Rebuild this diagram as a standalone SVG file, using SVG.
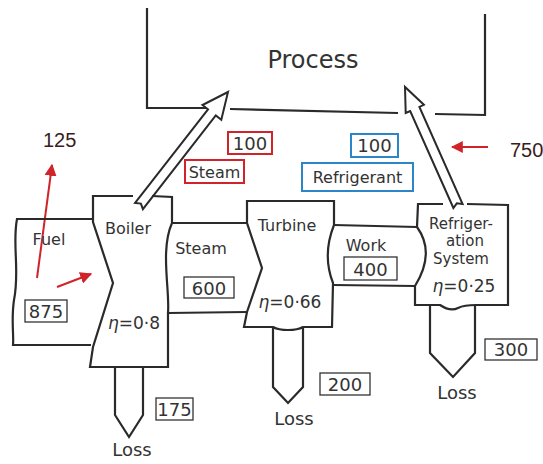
<svg xmlns="http://www.w3.org/2000/svg" width="543" height="464" viewBox="0 0 543 464">
<style>
.o{fill:none;stroke:#2a2a2a;stroke-width:2.2;stroke-linejoin:miter}
.w{fill:#fff;stroke:#2a2a2a;stroke-width:2;stroke-linejoin:miter}
.t{font-family:"DejaVu Sans",sans-serif;font-size:16px;fill:#333;text-anchor:middle}
.n{font-family:"DejaVu Sans",sans-serif;font-size:18px;fill:#333;text-anchor:middle}
.s{font-family:"DejaVu Sans",sans-serif;font-size:15px;fill:#333;text-anchor:middle}
.b{fill:none;stroke:#333;stroke-width:1.3}
.rb{fill:none;stroke:#d0232a;stroke-width:2}
.bb{fill:none;stroke:#2a86c8;stroke-width:2}
.r{stroke:#d0232a;stroke-width:2;fill:none}
.k{font-family:"Liberation Sans",Arial,sans-serif;font-size:20px;fill:#3a1c1c}
</style>
<defs>
<marker id="ah" viewBox="0 0 10 10" refX="9" refY="5" markerWidth="6" markerHeight="6" orient="auto" markerUnits="strokeWidth">
<path d="M0,0 L10,5 L0,10 Z" fill="#d0232a"/>
</marker>
</defs>
<rect width="543" height="464" fill="#fff"/>

<g id="process">
<path class="o" d="M147,8 L147,108 L206,108 M230,109 L398,113 M435,114 L485,115 L485,14"/>
<text class="t" x="313" y="68" style="font-size:24px">Process</text>
</g>

<g id="connectors">
<path class="w" d="M135.1,202.9 L208,109.3 L202.5,105 L228,92 L221.3,119.8 L215.8,115.5 L142.9,209.1 L140.9,203.6 Z"/>
<path class="w" d="M453.4,208 L410.2,111 L405.7,113 L405,87 L423.9,104.8 L419.4,106.9 L462.6,204 L456.8,203.3 Z"/>
<line class="r" x1="37" y1="278" x2="52" y2="165" marker-end="url(#ah)"/>
<line class="r" x1="57" y1="287" x2="91" y2="274" marker-end="url(#ah)"/>
<line class="r" x1="488" y1="147" x2="452" y2="147" marker-end="url(#ah)"/>
</g>

<g id="fuel">
<path class="o" d="M93,219 L17,219 C12,245 20,270 14,300 C11,320 14,335 13,345 L91,345"/>
<text class="t" x="49" y="245">Fuel</text>
<rect class="b" x="25" y="300" width="42" height="22"/>
<text class="n" x="46" y="318">875</text>
<text class="k" x="43" y="147">125</text>
</g>

<g id="boiler">
<path class="o" d="M133,196 L93,196 L93,222 L113,283 L93,347 L90,367 L168,367 L168,313 C170,290 160,250 172,223 L172,197 L152,196"/>
<path class="o" d="M115,367 L115,415 L129,437 L143,415 L143,367"/>
<text class="t" x="128" y="234">Boiler</text>
<text class="t" x="134" y="329" style="font-size:17px"><tspan font-style="italic">η</tspan>=0·8</text>
<rect class="b" x="156" y="398" width="37" height="22"/>
<text class="n" x="174.5" y="416">175</text>
<text class="t" x="132" y="456" style="font-size:18px">Loss</text>
</g>

<g id="steam">
<path class="o" d="M172,223 L248,223 M168,313 L246,312"/>
<text class="t" x="201" y="254">Steam</text>
<rect class="b" x="184" y="277" width="50" height="21"/>
<text class="n" x="209" y="295">600</text>
<rect class="rb" x="228" y="132" width="44" height="22"/>
<text class="n" x="250" y="150">100</text>
<rect class="rb" x="185" y="160" width="59" height="23"/>
<text class="t" x="214.5" y="178">Steam</text>
</g>

<g id="turbine">
<path class="o" d="M247,201 L334,201 L334,225 C326,245 326,265 333,283 L332,327 L303,327 C296,331 280,331 273,327 L244,327 L247,312 L262,268 L247,223 Z"/>
<path class="o" d="M273,327 L273,387 L288,403 L303,387 L303,327"/>
<text class="t" x="287" y="231">Turbine</text>
<text class="t" x="290" y="308" style="font-size:17px"><tspan font-style="italic">η</tspan>=0·66</text>
<rect class="b" x="320" y="373" width="50" height="22"/>
<text class="n" x="345" y="391">200</text>
<text class="t" x="294" y="425" style="font-size:18px">Loss</text>
</g>

<g id="work">
<path class="o" d="M334,225 L417,227 M333,285 L415,286"/>
<text class="t" x="366" y="251">Work</text>
<rect class="b" x="344" y="257" width="53" height="23"/>
<text class="n" x="370.5" y="276">400</text>
</g>

<g id="refrigeration">
<path class="o" d="M443,204 L418,204 L417,227 C430,245 428,265 415,286 L415,305 L440,305 C446,309 452,311 458,308 C464,305 470,305 476,305 L508,305 L508,205 L467,204"/>
<path class="o" d="M430,305 L430,353 L453,377 L475,353 L475,305"/>
<text class="s" x="461" y="229">Refriger-</text>
<text class="s" x="465" y="246">ation</text>
<text class="s" x="461" y="264">System</text>
<text class="t" x="464" y="292" style="font-size:17px"><tspan font-style="italic">η</tspan>=0·25</text>
<rect class="b" x="485" y="339" width="52" height="21"/>
<text class="n" x="511" y="356">300</text>
<text class="t" x="457" y="399" style="font-size:18px">Loss</text>
<rect class="bb" x="351" y="134" width="47" height="23"/>
<text class="n" x="374.5" y="152">100</text>
<rect class="bb" x="302" y="163" width="111" height="28"/>
<text class="t" x="357.5" y="183">Refrigerant</text>
<text class="k" x="510" y="157">750</text>
</g>
</svg>
